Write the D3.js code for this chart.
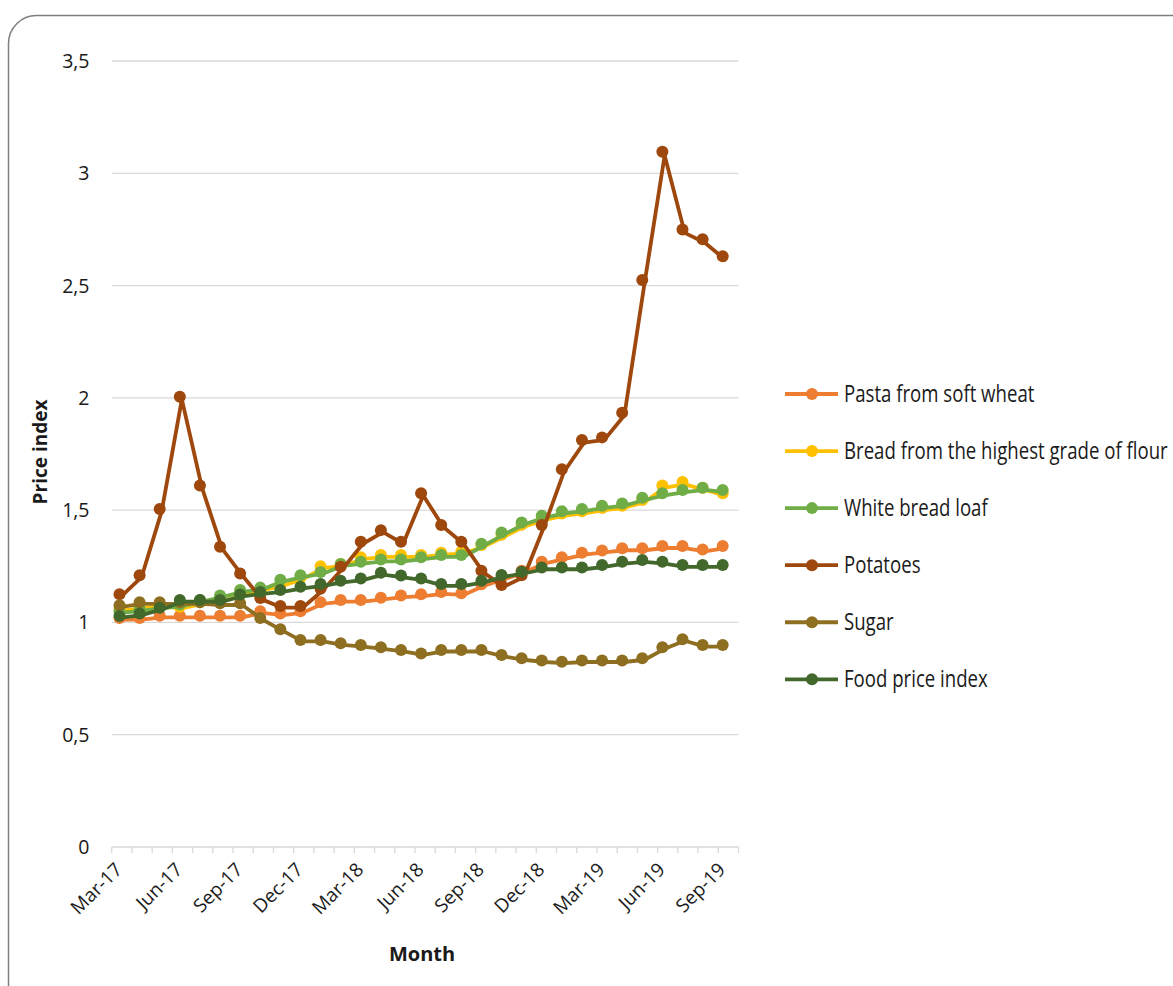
<!DOCTYPE html>
<html>
<head>
<meta charset="utf-8">
<script src="https://cdn.jsdelivr.net/npm/d3@7"></script>
<style>
  html, body { margin: 0; padding: 0; background: #fff; }
  svg { display: block; }
  text { font-family: "Open Sans", "Noto Sans", sans-serif; fill: #1a1a1a; }
</style>
</head>
<body>
<svg id="chart" width="1173" height="986"></svg>
<script>
// ---------- data ----------
const months = ["Mar-17","Apr-17","May-17","Jun-17","Jul-17","Aug-17","Sep-17","Oct-17","Nov-17","Dec-17",
  "Jan-18","Feb-18","Mar-18","Apr-18","May-18","Jun-18","Jul-18","Aug-18","Sep-18","Oct-18","Nov-18","Dec-18",
  "Jan-19","Feb-19","Mar-19","Apr-19","May-19","Jun-19","Jul-19","Aug-19","Sep-19"];
const monthTickLabels = ["Mar-17","Jun-17","Sep-17","Dec-17","Mar-18","Jun-18","Sep-18","Dec-18","Mar-19","Jun-19","Sep-19"];
const yTickValues = [0, 0.5, 1, 1.5, 2, 2.5, 3, 3.5];

const seriesNames = ["Pasta from soft wheat","Bread from the highest grade of flour","White bread loaf","Potatoes","Sugar","Food price index"];
const seriesColors = ["#ED7D31","#FFC000","#70AD47","#9E480E","#8E6F22","#43682B"];

const pasta = [1.02,1.02,1.03,1.03,1.03,1.03,1.03,1.05,1.04,1.05,1.09,1.10,1.10,1.11,1.12,1.125,1.135,1.13,1.17,1.20,1.23,1.27,1.29,1.31,1.32,1.33,1.33,1.34,1.34,1.325,1.34];
const breadHighest = [1.06,1.07,1.08,1.07,1.09,1.10,1.13,1.15,1.17,1.20,1.25,1.26,1.29,1.30,1.30,1.30,1.31,1.315,1.345,1.39,1.435,1.465,1.485,1.495,1.51,1.52,1.545,1.61,1.625,1.60,1.575];
const whiteLoaf = [1.05,1.06,1.07,1.08,1.10,1.12,1.144,1.155,1.19,1.21,1.225,1.26,1.27,1.28,1.28,1.29,1.30,1.30,1.35,1.40,1.445,1.475,1.495,1.505,1.52,1.53,1.555,1.575,1.59,1.60,1.59];
const potatoes = [1.125,1.21,1.505,2.005,1.61,1.337,1.218,1.109,1.073,1.073,1.15,1.248,1.359,1.411,1.359,1.575,1.434,1.359,1.23,1.167,1.21,1.434,1.682,1.812,1.824,1.934,2.525,3.096,2.75,2.706,2.631];
const sugar = [1.077,1.09,1.09,1.09,1.09,1.085,1.085,1.02,0.97,0.922,0.922,0.907,0.899,0.889,0.877,0.862,0.877,0.877,0.877,0.855,0.84,0.83,0.825,0.83,0.83,0.83,0.84,0.889,0.925,0.899,0.899];
const foodIndex = [1.029,1.04,1.065,1.10,1.10,1.10,1.124,1.135,1.144,1.159,1.171,1.186,1.196,1.221,1.209,1.196,1.171,1.171,1.186,1.211,1.226,1.245,1.245,1.245,1.256,1.27,1.278,1.27,1.256,1.256,1.256];

const seriesValues = [pasta, breadHighest, whiteLoaf, potatoes, sugar, foodIndex];

// ---------- layout ----------
const svg = d3.select("#chart");
const plotLeft = 111.7, plotRight = 738.5, plotBottom = 847, plotTop = 61;

// frame
svg.append("rect")
  .attr("x", 8.5).attr("y", 15.5).attr("width", 1250).attr("height", 1050)
  .attr("rx", 28).attr("ry", 28)
  .attr("fill", "#fff").attr("stroke", "#7f7f7f").attr("stroke-width", 1.5);

const y = d3.scaleLinear().domain([0, 3.5]).range([plotBottom, plotTop]);
const yLine = d3.scaleLinear().domain([0, 3.5]).range([plotBottom + 0.5, plotBottom + 0.5 - 223.5 * 3.5]);
const xBand = d3.scaleBand().domain(months).range([plotLeft, plotRight]);
const xMark = d3.scalePoint().domain(months).range([119.5, 722.7]);
const xLine = d3.scalePoint().domain(months).range([121.5, 725]);

// gridlines
svg.append("g").selectAll("line")
  .data(yTickValues.filter(v => v > 0))
  .join("line")
  .attr("x1", plotLeft).attr("x2", plotRight)
  .attr("y1", d => y(d)).attr("y2", d => y(d))
  .attr("stroke", "#d9d9d9").attr("stroke-width", 1.3);

// y axis labels
svg.append("g").selectAll("text")
  .data(yTickValues)
  .join("text")
  .attr("x", 89.5).attr("y", d => y(d))
  .attr("dy", "0.36em")
  .attr("text-anchor", "end")
  .style("font-size", "19.5px")
  .text(d => String(d).replace(".", ","));

// x axis line and ticks
const xAxisG = svg.append("g");
xAxisG.append("line")
  .attr("x1", plotLeft).attr("x2", plotRight)
  .attr("y1", plotBottom).attr("y2", plotBottom)
  .attr("stroke", "#d9d9d9").attr("stroke-width", 1.3);
const boundaries = months.map(m => xBand(m)).concat([plotRight]);
xAxisG.selectAll("line.tick")
  .data(boundaries)
  .join("line")
  .attr("class", "tick")
  .attr("x1", d => d).attr("x2", d => d)
  .attr("y1", plotBottom).attr("y2", plotBottom + 6)
  .attr("stroke", "#d9d9d9").attr("stroke-width", 1.3);

// x labels
xAxisG.selectAll("text")
  .data(monthTickLabels)
  .join("text")
  .attr("text-anchor", "end")
  .attr("transform", d => `translate(${xMark(d) - 1},${plotBottom + 19}) rotate(-45)`)
  .attr("dy", "0.36em")
  .style("font-size", "19px")
  .text(d => d);

// axis titles
svg.append("text")
  .attr("transform", "translate(40,452) rotate(-90)")
  .attr("text-anchor", "middle")
  .attr("dy", "0.36em")
  .style("font-size", "19px").style("font-weight", "bold")
  .text("Price index");
svg.append("text")
  .attr("x", 422).attr("y", 961)
  .attr("text-anchor", "middle")
  .style("font-size", "20px").style("font-weight", "bold")
  .text("Month");

// series
const lineGen = d3.line()
  .x((d, i) => xLine(months[i]))
  .y(d => yLine(d));

seriesValues.forEach((vals, s) => {
  const g = svg.append("g");
  g.append("path")
    .attr("d", lineGen(vals))
    .attr("fill", "none")
    .attr("stroke", seriesColors[s])
    .attr("stroke-width", 3.8)
    .attr("stroke-linejoin", "round")
    .attr("stroke-linecap", "round");
  g.selectAll("circle")
    .data(vals)
    .join("circle")
    .attr("cx", (d, i) => xMark(months[i]))
    .attr("cy", d => y(d))
    .attr("r", 6)
    .attr("fill", seriesColors[s]);
});

// legend
const legendRowY = d3.scalePoint().domain(seriesNames).range([394, 679.3]);
const legend = svg.append("g");
const rows = legend.selectAll("g")
  .data(seriesNames)
  .join("g")
  .attr("transform", d => `translate(0,${legendRowY(d)})`);
rows.append("line")
  .attr("x1", 785).attr("x2", 838).attr("y1", 0).attr("y2", 0)
  .attr("stroke", (d, i) => seriesColors[i]).attr("stroke-width", 3.8);
rows.append("circle")
  .attr("cx", 812).attr("cy", 0).attr("r", 6)
  .attr("fill", (d, i) => seriesColors[i]);
const texts = rows.append("text")
  .attr("x", 0).attr("y", 0)
  .style("font-size", "23px")
  .text(d => d);
// horizontally condense the legend text to match the narrow face of the original
const longest = d3.max(texts.nodes(), n => n.getComputedTextLength());
const sx = 324 / longest;
texts.attr("transform", `translate(844,8) scale(${sx},1)`);
</script>
</body>
</html>
